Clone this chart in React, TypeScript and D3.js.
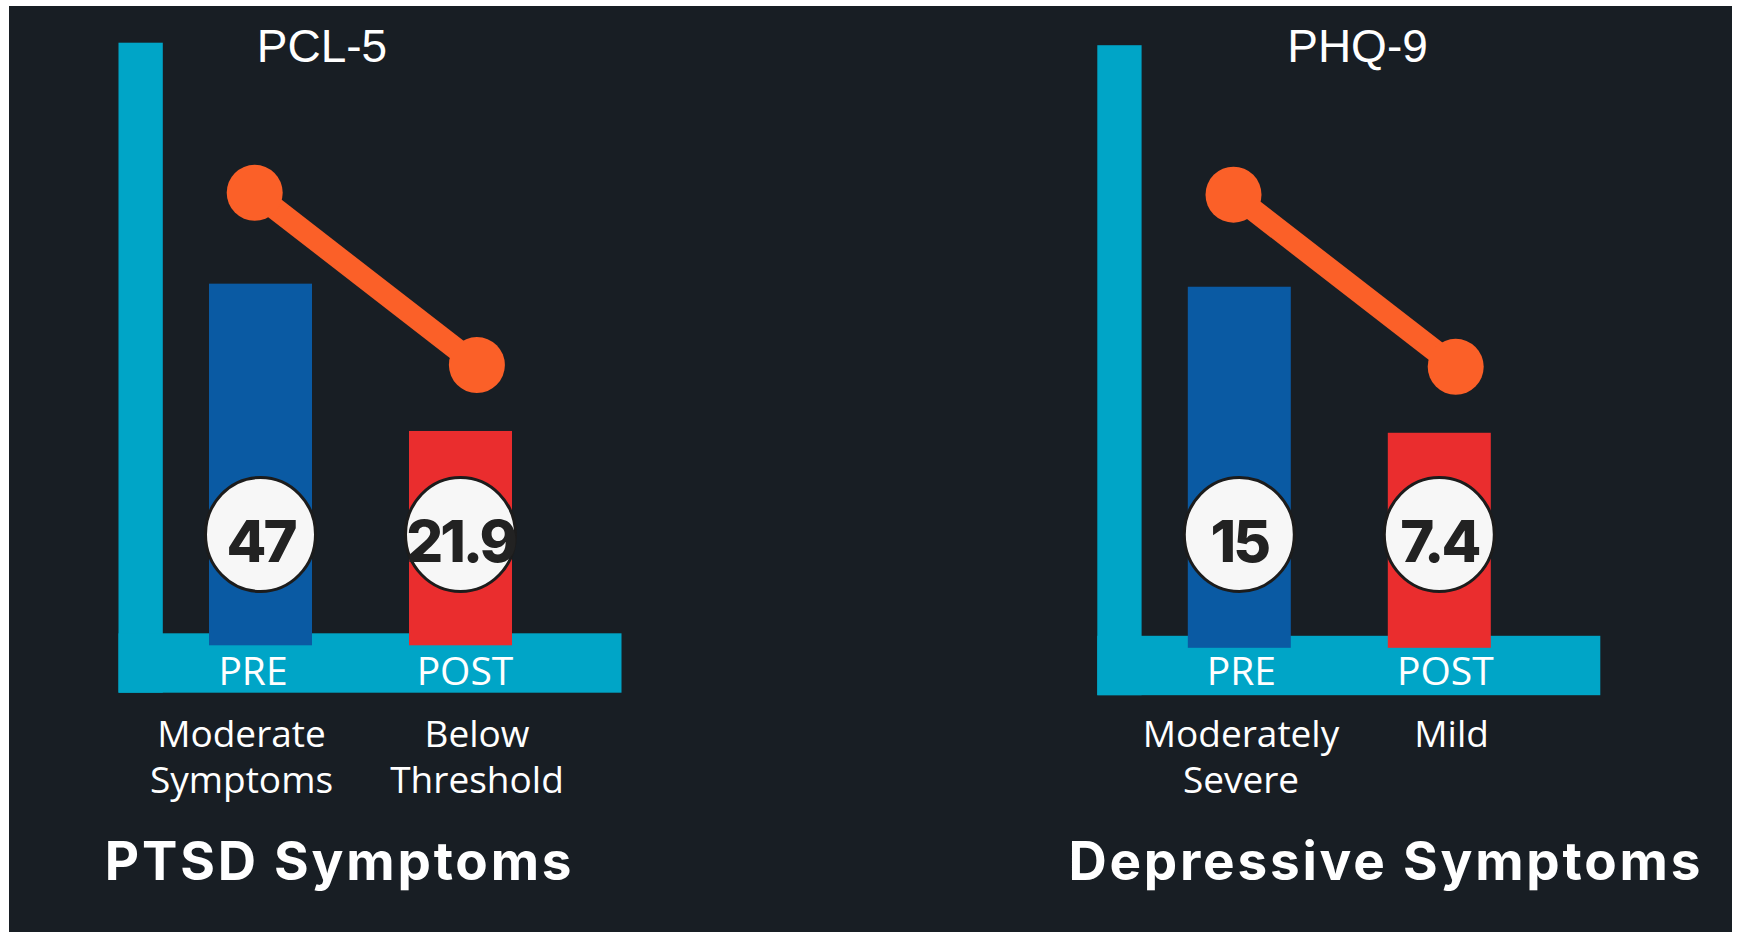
import * as d3 from "d3"
import { useEffect, useRef } from "react"

const W = 1741
const H = 934

const BG = "#181e24"
const CYAN = "#00a5c7"
const PRE_COLOR = "#0a5aa3"
const POST_COLOR = "#ea2d2e"
const ORANGE = "#fb6028"

const categories = ["PRE", "POST"]
const scoreNames = ["PCL-5", "PHQ-9"]
const panelTitles = ["PTSD Symptoms", "Depressive Symptoms"]
const ptsdValues = [47, 21.9]
const depressionValues = [15, 7.4]
const ptsdLevels = [["Moderate", "Symptoms"], ["Below", "Threshold"]]
const depressionLevels = [["Moderately", "Severe"], ["Mild"]]

// the infographic does not start its bars at zero, so each panel has its own domain
const barDomains = [[-14.62, 88.06], [-3.79, 27.57]]
const lineDomains = [[-18.95, 68.88], [-5.01, 21.6]]

const panels = [
  { ox: 118.5, oy: 0, scoreX: 322, titleX: 339.6, descX: [241.5, 477], catDx: [-7.5, 4.5] },
  { ox: 1097.3, oy: 2.5, scoreX: 1357.5, titleX: 1385.8, descX: [1241, 1451.6], catDx: [2, 6] },
]

const series = [ptsdValues, depressionValues]
const levels = [ptsdLevels, depressionLevels]

export default function App() {
  const svgRef = useRef<SVGSVGElement | null>(null)

  useEffect(() => {
    if (!svgRef.current) return
    const svg = d3.select(svgRef.current)
    svg.selectAll("*").remove()

    svg.append("rect").attr("x", 9).attr("y", 6).attr("width", 1723).attr("height", 926).attr("fill", BG)

    panels.forEach((p, pi) => {
      const values = series[pi]
      const axisTop = 42.7 + p.oy
      const baseline = 645.3 + p.oy
      const g = svg.append("g").attr("transform", `translate(${p.ox},0)`)

      const x = d3.scaleBand().domain(categories).range([90.5, 393.5]).paddingInner(0.485).paddingOuter(0)
      const xLine = d3.scalePoint().domain(categories).range([136.2, 358.4])
      const y = d3.scaleLinear().domain(barDomains[pi]).range([baseline, axisTop])
      const yLine = d3.scaleLinear().domain(lineDomains[pi]).range([baseline, axisTop])

      // axis frame
      g.append("rect")
        .attr("x", 0)
        .attr("y", axisTop)
        .attr("width", 44.3)
        .attr("height", 692.7 + p.oy - axisTop)
        .attr("fill", CYAN)
      g.append("rect")
        .attr("x", 0)
        .attr("y", 633.3 + p.oy)
        .attr("width", 503)
        .attr("height", 59.4)
        .attr("fill", CYAN)

      // bars
      g.selectAll("rect.bar")
        .data(values)
        .enter()
        .append("rect")
        .attr("class", "bar")
        .attr("x", (_, i) => x(categories[i])!)
        .attr("width", x.bandwidth())
        .attr("y", (d) => y(d))
        .attr("height", (d) => baseline - y(d))
        .attr("fill", (_, i) => (i === 0 ? PRE_COLOR : POST_COLOR))

      // change line
      const line = d3
        .line<number>()
        .x((_, i) => xLine(categories[i])!)
        .y((d) => yLine(d))
      g.append("path").attr("d", line(values)).attr("fill", "none").attr("stroke", ORANGE).attr("stroke-width", 22)
      g.selectAll("circle.dot")
        .data(values)
        .enter()
        .append("circle")
        .attr("class", "dot")
        .attr("cx", (_, i) => xLine(categories[i])!)
        .attr("cy", (d) => yLine(d))
        .attr("r", 28)
        .attr("fill", ORANGE)

      // value badges
      const badge = g
        .selectAll("g.badge")
        .data(values)
        .enter()
        .append("g")
        .attr("class", "badge")
        .attr("transform", (_, i) => `translate(${x(categories[i])! + x.bandwidth() / 2},534.5)`)
      badge.append("ellipse").attr("rx", 55).attr("ry", 57).attr("fill", "#f7f7f7").attr("stroke", "#1c1c1c").attr("stroke-width", 3)
      badge
        .append("text")
        .attr("y", 27)
        .attr("text-anchor", "middle")
        .style("font-family", "Inter, sans-serif")
        .style("font-weight", "800")
        .style("font-size", "58px")
        .style("letter-spacing", "-3px")
        .style("fill", "#222")
        .text((d) => String(d))

      // category labels
      g.selectAll("text.cat")
        .data(categories)
        .enter()
        .append("text")
        .attr("class", "cat")
        .attr("x", (d, i) => x(d)! + x.bandwidth() / 2 + p.catDx[i])
        .attr("y", 685.3)
        .attr("text-anchor", "middle")
        .style("font-family", "'Open Sans', sans-serif")
        .style("font-size", "39px")
        .style("fill", "#fff")
        .text((d) => d)

      // severity descriptions
      levels[pi].forEach((lines, i) => {
        const t = svg
          .append("text")
          .attr("text-anchor", "middle")
          .style("font-family", "'Open Sans', sans-serif")
          .style("font-size", "37px")
          .style("fill", "#fff")
        lines.forEach((s, j) => {
          t.append("tspan").attr("x", p.descX[i]).attr("y", 746.7 + j * 46).text(s)
        })
      })

      svg
        .append("text")
        .attr("x", p.scoreX)
        .attr("y", 61.7)
        .attr("text-anchor", "middle")
        .style("font-family", "'Liberation Sans', Arial, sans-serif")
        .style("font-size", "46px")
        .style("fill", "#fff")
        .text(scoreNames[pi])

      svg
        .append("text")
        .attr("x", p.titleX)
        .attr("y", 880)
        .attr("text-anchor", "middle")
        .style("font-family", "Inter, sans-serif")
        .style("font-weight", "700")
        .style("font-size", "53px")
        .style("letter-spacing", "2.8px")
        .style("fill", "#fff")
        .text(panelTitles[pi])
    })
  }, [])

  return (
    <svg
      ref={svgRef}
      width={W}
      height={H}
      style={{ position: "absolute", left: 0, top: 0, background: "#fff" }}
      xmlns="http://www.w3.org/2000/svg"
    />
  )
}
